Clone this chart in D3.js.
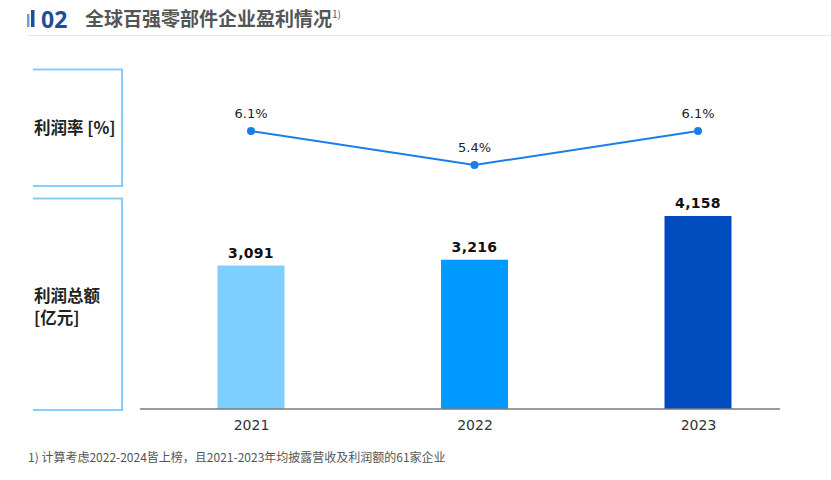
<!DOCTYPE html>
<html><head><meta charset="utf-8">
<script src="https://cdn.jsdelivr.net/npm/d3@7/dist/d3.min.js"></script>
<style>
body{margin:0;background:#fff;}
svg text{font-family:"Noto Sans CJK SC","Noto Sans",sans-serif;}
</style></head>
<body><svg id="c" width="831" height="480"></svg>
<script>
const years = ["2021","2022","2023"];
const profit = [3091, 3216, 4158];
const margin = [6.1, 5.4, 6.1];
const profitLabels = ["3,091","3,216","4,158"];
const marginLabels = ["6.1%","5.4%","6.1%"];
const barColors = ["#7dcfff","#0099ff","#004bbd"];
const titleText = "全球百强零部件企业盈利情况";
const footnote = "1) 计算考虑2022-2024皆上榜，且2021-2023年均披露营收及利润额的61家企业";

const svg = d3.select("#c");

// header
svg.append("rect").attr("x",27).attr("y",14).attr("width",2.5).attr("height",13).attr("fill","#5aa7e6");
svg.append("rect").attr("x",31).attr("y",10).attr("width",3.5).attr("height",17).attr("fill","#1d4f9a");
svg.append("text").attr("x",41).attr("y",27.5).attr("font-size",23).attr("font-weight",700)
  .attr("fill","#1d4f9a").style("font-family","'Noto Sans','Open Sans',sans-serif").text("02");
const t = svg.append("text").attr("x",85).attr("y",26).attr("font-size",19).attr("font-weight",700).attr("fill","#555");
t.append("tspan").text(titleText);
t.append("tspan").attr("font-size",10).attr("dy",-8).attr("font-weight",400).text("1)");
svg.append("line").attr("x1",28).attr("x2",831).attr("y1",35.5).attr("y2",35.5).attr("stroke","#e3e8ee").attr("stroke-width",1);

// scales
const xPos = d3.scalePoint().domain(years).range([251,698]);
const y = d3.scaleLinear().domain([0, 4158]).range([409, 216]);
const ym = d3.scaleLinear().domain([5.4, 6.1]).range([165, 131]);
const bw = 67;

// brackets
const brColor = "#86ccf3";
function bracket(y0,y1){
  svg.append("path").attr("d",`M33,${y0}H122V${y1}H33`).attr("fill","none").attr("stroke",brColor).attr("stroke-width",2);
}
bracket(69.5,186);
bracket(198.5,410);
svg.append("text").attr("x",34).attr("y",134).attr("font-size",16.5).attr("font-weight",700).attr("fill","#222").text("利润率 [%]");
svg.append("text").attr("x",34).attr("y",302).attr("font-size",16.5).attr("font-weight",700).attr("fill","#222").text("利润总额");
svg.append("text").attr("x",34).attr("y",324).attr("font-size",16.5).attr("font-weight",700).attr("fill","#222").text("[亿元]");

// bars
svg.selectAll(".bar").data(years).enter().append("rect")
  .attr("x",(d)=>xPos(d)-bw/2).attr("y",(d,i)=>y(profit[i]))
  .attr("width",bw).attr("height",(d,i)=>y(0)-y(profit[i]))
  .attr("fill",(d,i)=>barColors[i]);
svg.selectAll(".bl").data(years).enter().append("text")
  .attr("x",d=>xPos(d)).attr("y",(d,i)=>y(profit[i])-8)
  .attr("text-anchor","middle").attr("font-size",14).attr("font-weight",700).attr("fill","#111")
  .style("font-family","'DejaVu Sans',sans-serif").style("letter-spacing","0.3px")
  .text((d,i)=>profitLabels[i]);

// axis
const axis = d3.axisBottom(xPos).tickSize(0).tickPadding(8);
const ag = svg.append("g").attr("transform","translate(0,409)").call(axis);
ag.select(".domain").remove();
ag.selectAll("text").attr("font-size",14).attr("fill","#333").style("font-family","'DejaVu Sans',sans-serif").attr("dy","0.9em");
svg.append("line").attr("x1",140).attr("x2",780).attr("y1",409).attr("y2",409).attr("stroke","#7a7a7a").attr("stroke-width",1.5);

// line
const line = d3.line().x((d,i)=>xPos(years[i])).y(d=>ym(d));
svg.append("path").datum(margin).attr("d",line).attr("fill","none").attr("stroke","#1a7ee8").attr("stroke-width",2);
svg.selectAll(".pt").data(margin).enter().append("circle")
  .attr("cx",(d,i)=>xPos(years[i])).attr("cy",d=>ym(d)).attr("r",4).attr("fill","#1a7ee8");
svg.selectAll(".ml").data(margin).enter().append("text")
  .attr("x",(d,i)=>xPos(years[i])).attr("y",d=>ym(d)-13)
  .attr("text-anchor","middle").attr("font-size",13).attr("fill","#222")
  .style("font-family","'DejaVu Sans',sans-serif")
  .text((d,i)=>marginLabels[i]);

// footnote
svg.append("text").attr("x",28).attr("y",462).attr("font-size",12).attr("fill","#555").text(footnote);
</script></body></html>
